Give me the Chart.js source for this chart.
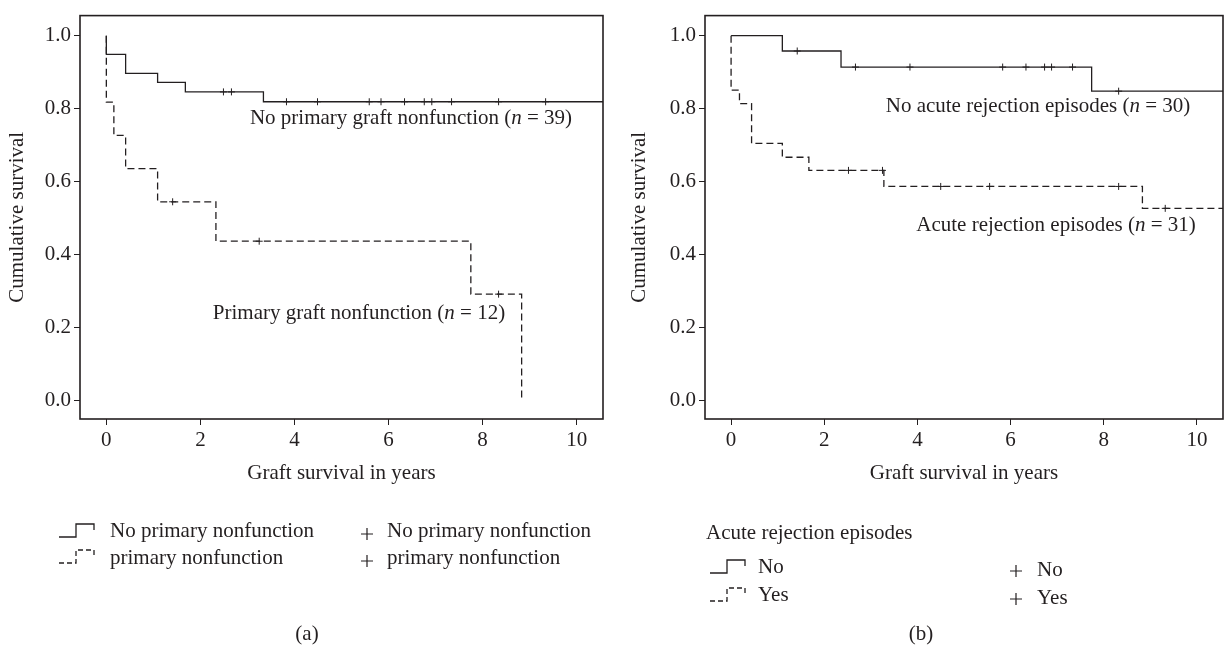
<!DOCTYPE html>
<html>
<head>
<meta charset="utf-8">
<script src="https://cdn.jsdelivr.net/npm/chart.js@4.4.0/dist/chart.umd.min.js"></script>
<style>
  html, body { margin: 0; padding: 0; background: #fff; }
  #wrap { position: relative; width: 1228px; height: 651px; }
  .panel { position: absolute; top: 0; width: 614px; height: 651px; }
</style>
</head>
<body>
<div id="wrap">
  <div class="panel" style="left:0"><canvas id="chartA" width="614" height="651"></canvas></div>
  <div class="panel" style="left:614px"><canvas id="chartB" width="614" height="651"></canvas></div>
</div>
<script>
const xTicks = [0, 2, 4, 6, 8, 10];
const yTicks = [0, 0.2, 0.4, 0.6, 0.8, 1.0];

// (a) no primary graft nonfunction, n = 39
const noPnfTimes = [0, 0, 0.41, 1.09, 1.68, 3.34, 10.6];
const noPnfSurv = [1, 0.949, 0.897, 0.872, 0.846, 0.819, 0.819];
const noPnfCensored = [2.49, 2.66, 3.83, 4.49, 5.59, 5.84, 6.34, 6.76, 6.92, 7.34, 8.34, 9.34];

// (a) primary graft nonfunction, n = 12
const pnfTimes = [0, 0, 0.16, 0.41, 1.09, 2.33, 7.75, 8.83];
const pnfSurv = [1, 0.818, 0.727, 0.636, 0.545, 0.437, 0.292, 0];
const pnfCensored = [1.41, 3.25, 8.34];

// (b) no acute rejection episodes, n = 30
const noArTimes = [0, 1.10, 2.36, 7.74, 10.6];
const noArSurv = [1, 0.958, 0.914, 0.848, 0.848];
const noArCensored = [1.42, 2.67, 3.84, 5.83, 6.33, 6.73, 6.88, 7.33, 8.32];

// (b) acute rejection episodes, n = 31
const arTimes = [0, 0, 0.18, 0.44, 1.10, 1.67, 3.28, 8.83, 10.6];
const arSurv = [1, 0.851, 0.814, 0.705, 0.667, 0.631, 0.587, 0.527, 0.527];
const arCensored = [2.52, 3.25, 4.50, 5.55, 8.32, 9.32];

const ink = "#231f20";
const serif = "'Liberation Serif', 'Times New Roman', serif";
const fontPx = 21;
Chart.defaults.font.family = serif;
Chart.defaults.font.size = fontPx;
Chart.defaults.color = ink;

function toPoints(times, surv) {
  return times.map((t, i) => ({ x: t, y: surv[i] }));
}

// survival value in force at time t
function stepAt(times, surv, t) {
  let v = surv[0];
  for (let i = 0; i < times.length; i++) if (times[i] <= t) v = surv[i];
  return v;
}

function drawNote(ctx, parts, cx, cy) {
  ctx.save();
  ctx.fillStyle = ink;
  ctx.textBaseline = "middle";
  ctx.textAlign = "left";
  let total = 0;
  parts.forEach(p => {
    ctx.font = (p[1] ? "italic " : "") + fontPx + "px " + serif;
    total += ctx.measureText(p[0]).width;
  });
  let x = cx - total / 2;
  parts.forEach(p => {
    ctx.font = (p[1] ? "italic " : "") + fontPx + "px " + serif;
    ctx.fillText(p[0], x, cy);
    x += ctx.measureText(p[0]).width;
  });
  ctx.restore();
}

function drawText(ctx, s, x, y, align) {
  ctx.save();
  ctx.fillStyle = ink;
  ctx.font = fontPx + "px " + serif;
  ctx.textBaseline = "middle";
  ctx.textAlign = align || "left";
  ctx.fillText(s, x, y);
  ctx.restore();
}

function drawStepSymbol(ctx, x, y, dashed) {
  ctx.save();
  ctx.strokeStyle = ink;
  ctx.lineWidth = 1.3;
  ctx.setLineDash(dashed ? [5, 3] : []);
  ctx.beginPath();
  ctx.moveTo(x, y);
  ctx.lineTo(x + 17, y);
  ctx.lineTo(x + 17, y - 13);
  ctx.lineTo(x + 35, y - 13);
  ctx.lineTo(x + 35, y - 7);
  ctx.stroke();
  ctx.restore();
}

function drawPlus(ctx, cx, cy) {
  ctx.save();
  ctx.strokeStyle = ink;
  ctx.lineWidth = 1.2;
  ctx.beginPath();
  ctx.moveTo(cx - 6, cy); ctx.lineTo(cx + 6, cy);
  ctx.moveTo(cx, cy - 6); ctx.lineTo(cx, cy + 6);
  ctx.stroke();
  ctx.restore();
}

const framePlugin = {
  id: "frame",
  afterDraw(chart) {
    const { ctx, chartArea: a } = chart;
    ctx.save();
    ctx.strokeStyle = ink;
    ctx.lineWidth = 1.6;
    ctx.strokeRect(a.left, a.top, a.right - a.left, a.bottom - a.top);
    ctx.restore();
  }
};

function makePanel(id, p) {
  return new Chart(document.getElementById(id), {
    type: "line",
    data: {
      datasets: [
        { data: toPoints(p.solidT, p.solidS), stepped: true, borderColor: ink, borderWidth: 1.3, pointRadius: 0, fill: false },
        { data: toPoints(p.dashT, p.dashS), stepped: true, borderColor: ink, borderWidth: 1.3, borderDash: [7, 4], pointRadius: 0, fill: false },
        { data: p.solidC.map(t => ({ x: t, y: stepAt(p.solidT, p.solidS, t) })), showLine: false,
          pointStyle: "cross", pointRadius: 3.5, borderColor: ink, borderWidth: 1 },
        { data: p.dashC.map(t => ({ x: t, y: stepAt(p.dashT, p.dashS, t) })), showLine: false,
          pointStyle: "cross", pointRadius: 3.5, borderColor: ink, borderWidth: 1 }
      ]
    },
    options: {
      responsive: false,
      animation: false,
      devicePixelRatio: 1,
      layout: { padding: { left: 0, top: 10, right: p.padRight, bottom: 162 } },
      plugins: { legend: { display: false }, tooltip: { enabled: false } },
      scales: {
        x: {
          type: "linear",
          min: -0.56,
          max: 10.56,
          afterBuildTicks: s => { s.ticks = xTicks.map(v => ({ value: v })); },
          afterFit: s => { s.height = 70; },
          ticks: { padding: 3, callback: v => String(v) },
          grid: { drawOnChartArea: false, tickLength: 6, color: ink },
          border: { display: false },
          title: { display: true, text: "Graft survival in years", padding: { top: 0, bottom: 3 } }
        },
        y: {
          min: -0.05,
          max: 1.055,
          afterBuildTicks: s => { s.ticks = yTicks.map(v => ({ value: v })); },
          afterFit: s => { s.width = p.yWidth; },
          ticks: { padding: 3, callback: v => v.toFixed(1) },
          grid: { drawOnChartArea: false, tickLength: 6, color: ink },
          border: { display: false },
          title: { display: true, text: "Cumulative survival", padding: { top: p.yTitlePad, bottom: 0 } }
        }
      }
    },
    plugins: [framePlugin, { id: "extras", afterDraw: chart => p.extras(chart.ctx) }]
  });
}

makePanel("chartA", {
  solidT: noPnfTimes, solidS: noPnfSurv, solidC: noPnfCensored,
  dashT: pnfTimes, dashS: pnfSurv, dashC: pnfCensored,
  padRight: 11, yWidth: 80, yTitlePad: 5,
  extras(ctx) {
    drawNote(ctx, [["No primary graft nonfunction (", false], ["n", true], [" = 39)", false]], 411, 118);
    drawNote(ctx, [["Primary graft nonfunction (", false], ["n", true], [" = 12)", false]], 359, 313);
    drawStepSymbol(ctx, 59, 537, false);
    drawText(ctx, "No primary nonfunction", 110, 531);
    drawStepSymbol(ctx, 59, 563, true);
    drawText(ctx, "primary nonfunction", 110, 558);
    drawPlus(ctx, 367, 534);
    drawText(ctx, "No primary nonfunction", 387, 531);
    drawPlus(ctx, 367, 561);
    drawText(ctx, "primary nonfunction", 387, 558);
    drawText(ctx, "(a)", 307, 634, "center");
  }
});

makePanel("chartB", {
  solidT: noArTimes, solidS: noArSurv, solidC: noArCensored,
  dashT: arTimes, dashS: arSurv, dashC: arCensored,
  padRight: 1, yWidth: 91, yTitlePad: 13,
  extras(ctx) {
    drawNote(ctx, [["No acute rejection episodes (", false], ["n", true], [" = 30)", false]], 424, 106);
    drawNote(ctx, [["Acute rejection episodes (", false], ["n", true], [" = 31)", false]], 442, 225);
    drawText(ctx, "Acute rejection episodes", 92, 533);
    drawStepSymbol(ctx, 96, 573, false);
    drawText(ctx, "No", 144, 567);
    drawStepSymbol(ctx, 96, 601, true);
    drawText(ctx, "Yes", 144, 595);
    drawPlus(ctx, 402, 571);
    drawText(ctx, "No", 423, 570);
    drawPlus(ctx, 402, 599);
    drawText(ctx, "Yes", 423, 598);
    drawText(ctx, "(b)", 307, 634, "center");
  }
});
</script>
</body>
</html>
